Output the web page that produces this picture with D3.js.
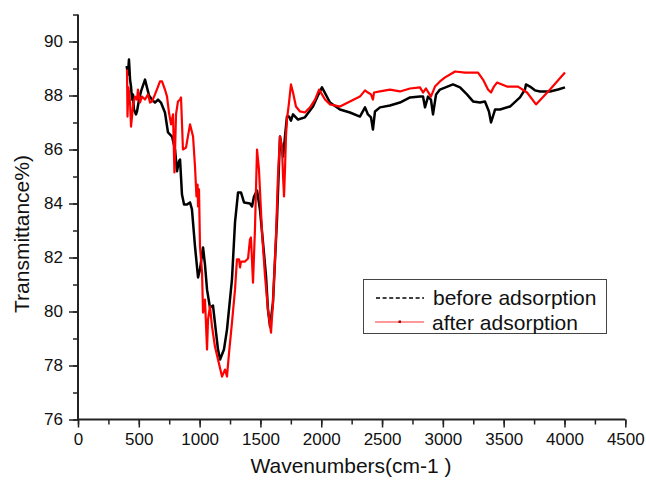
<!DOCTYPE html>
<html><head><meta charset="utf-8">
<script src="https://cdn.jsdelivr.net/npm/d3@7"></script>
<style>body{margin:0;background:#fff}svg{display:block}text{font-family:"Liberation Sans",Arial,sans-serif;fill:#111}</style>
</head><body><svg id="c" width="646" height="485"></svg>
<script>
const wnBefore=[400,411,419,428,436,444,452,460,477,485,502,518,551,567,584,608,633,658,682,715,740,773,798,814,830,839,855,872,896,921,937,962,987,1003,1028,1044,1061,1085,1110,1135,1151,1168,1200,1225,1266,1291,1316,1340,1365,1414,1431,1447,1472,1496,1521,1546,1562,1579,1603,1636,1661,1686,1702,1718,1735,1751,1768,1809,1866,1932,1973,2006,2072,2154,2236,2318,2360,2384,2409,2425,2442,2483,2565,2647,2730,2812,2837,2853,2878,2902,2919,2944,2976,3083,3141,3198,3248,3305,3346,3379,3396,3429,3470,3552,3634,3675,3683,3716,3757,3799,3881,3947,4004];
const tBefore=[89.09,88.78,89.33,88.59,88.33,87.85,88.04,87.48,87.3,87.41,87.85,88.15,88.59,88.30,88.0,87.85,87.74,87.85,87.74,87.37,86.63,86.48,86.0,85.19,85.56,85.63,84.33,83.96,83.96,84.04,83.78,82.41,81.26,81.56,82.37,81.74,80.81,80.15,80.22,79.22,78.59,78.22,78.59,79.33,81.19,83.30,84.41,84.41,84.04,84.0,83.89,84.26,84.48,83.78,82.56,81.3,80.07,79.44,80.33,83.41,86.48,85.74,86.48,87.22,87.22,87.07,87.3,87.11,87.19,87.59,88.0,88.30,87.74,87.48,87.37,87.22,87.56,87.3,87.19,86.74,87.41,87.56,87.63,87.74,87.93,87.96,87.96,87.56,87.96,87.85,87.3,88.04,88.22,88.41,88.3,88.04,87.78,87.74,87.78,87.41,87.0,87.48,87.48,87.59,87.93,88.22,88.41,88.33,88.19,88.15,88.15,88.22,88.3];
const wnAfter=[403,407,415,428,436,452,469,485,493,510,526,551,576,592,608,633,658,674,691,715,732,748,765,781,793,806,822,839,847,863,888,921,946,962,974,983,987,995,1003,1020,1028,1044,1061,1069,1085,1102,1126,1151,1184,1209,1225,1242,1266,1291,1307,1324,1332,1340,1373,1398,1414,1422,1439,1455,1472,1488,1513,1538,1562,1587,1603,1628,1644,1661,1677,1686,1694,1702,1710,1718,1735,1751,1768,1792,1825,1866,1908,1949,1982,2006,2031,2072,2154,2236,2318,2360,2384,2409,2425,2434,2483,2565,2647,2730,2812,2837,2861,2902,2935,2976,3018,3059,3100,3182,3289,3330,3371,3396,3420,3445,3527,3618,3692,3766,3881,4004];
const tAfter=[88.96,87.22,88.3,87.74,86.85,87.59,87.96,87.85,88.22,87.74,87.96,87.85,88.04,87.74,87.78,88.04,88.33,88.52,88.52,88.22,87.96,87.37,86.93,87.3,85.15,87.3,87.78,87.85,87.93,86.0,86.07,86.93,86.48,85.37,84.26,84.7,83.89,84.52,82.41,81.44,79.96,80.44,78.59,79.7,80.19,79.44,78.7,78.22,77.59,77.85,77.59,78.48,79.59,80.81,81.93,81.93,81.63,81.85,81.85,81.96,82.67,82.74,81.07,83.04,86.0,85.26,82.93,81.3,80.07,79.22,80.33,82.78,85.0,86.48,86.11,85.0,84.26,85.26,86.48,87.11,87.74,88.41,88.11,87.59,87.41,87.37,87.56,87.85,88.22,88.04,87.85,87.67,87.59,87.78,87.96,88.19,88.11,88.04,87.85,88.11,88.15,88.22,88.15,88.26,88.3,88.11,88.26,87.96,88.33,88.52,88.67,88.78,88.89,88.85,88.85,88.59,88.22,88.11,88.33,88.48,88.33,88.33,88.11,87.67,88.22,88.85];
const xTicks=[0,500,1000,1500,2000,2500,3000,3500,4000,4500];
const yTicks=[76,78,80,82,84,86,88,90];
const seriesNames=["before adsorption","after adsorption"];

const svg=d3.select("#c");
const x=d3.scaleLinear().domain([0,4500]).range([78,625.3]);
const y=d3.scaleLinear().domain([76,91]).range([419.5,14.5]);
const axisColor="#222";

// y axis
const ya=svg.append("g").attr("transform","translate(78,0)")
  .call(d3.axisLeft(y).tickValues(d3.range(76,91.01,1)).tickSize(5).tickFormat(""));
ya.selectAll("line").attr("stroke",axisColor).attr("stroke-width",1.5);
const ya2=svg.append("g").attr("transform","translate(78,0)")
  .call(d3.axisLeft(y).tickValues(yTicks).tickSize(9).tickPadding(6).tickFormat(d3.format("d")));
ya2.selectAll("line").attr("stroke",axisColor).attr("stroke-width",1.5);
ya2.selectAll("text").style("font-size","17px").attr("fill","#111");
[ya,ya2].forEach(g=>g.select(".domain").remove());
svg.append("line").attr("x1",78).attr("x2",78).attr("y1",y(91)).attr("y2",y(76)+1).attr("stroke",axisColor).attr("stroke-width",2);

// x axis
const xa=svg.append("g").attr("transform","translate(0,419.5)")
  .call(d3.axisBottom(x).tickValues(d3.range(0,4501,250)).tickSize(5).tickFormat(""));
xa.selectAll("line").attr("stroke",axisColor).attr("stroke-width",1.5);
const xa2=svg.append("g").attr("transform","translate(0,419.5)")
  .call(d3.axisBottom(x).tickValues(xTicks).tickSize(8).tickPadding(5).tickFormat(d3.format("d")));
xa2.selectAll("line").attr("stroke",axisColor).attr("stroke-width",1.5);
xa2.selectAll("text").style("font-size","17px").attr("fill","#111");
[xa,xa2].forEach(g=>g.select(".domain").remove());
svg.append("line").attr("x1",77).attr("x2",x(4500)).attr("y1",419.5).attr("y2",419.5).attr("stroke",axisColor).attr("stroke-width",2);

// lines
const lineB=d3.line().x((d,i)=>x(wnBefore[i])).y((d,i)=>y(tBefore[i]));
const lineA=d3.line().x((d,i)=>x(wnAfter[i])).y((d,i)=>y(tAfter[i]));
svg.append("path").attr("d",lineB(tBefore)).attr("fill","none").attr("stroke","#000").attr("stroke-width",2.5).attr("stroke-linejoin","round");
svg.append("path").attr("d",lineA(tAfter)).attr("fill","none").attr("stroke","#f00").attr("stroke-width",2.2).attr("stroke-linejoin","round");

// axis titles
svg.append("text").attr("x",351).attr("y",473).attr("text-anchor","middle").style("font-size","21px").text("Wavenumbers(cm-1 )");
svg.append("text").attr("transform","translate(29,234) rotate(-90)").attr("text-anchor","middle").style("font-size","21px").text("Transmittance%)");

// legend
const lg=svg.append("g");
lg.append("rect").attr("x",363.5).attr("y",279.5).attr("width",243).attr("height",54).attr("fill","#fff").attr("stroke","#444").attr("stroke-width",1);
lg.append("line").attr("x1",376).attr("x2",424).attr("y1",298).attr("y2",298).attr("stroke","#000").attr("stroke-width",1.5).attr("stroke-dasharray","4,2.6");
lg.append("text").attr("x",433).attr("y",305).style("font-size","21px").text(seriesNames[0]);
lg.append("line").attr("x1",375).attr("x2",424).attr("y1",322).attr("y2",322).attr("stroke","#f33").attr("stroke-width",1);
lg.append("rect").attr("x",398.5).attr("y",320.5).attr("width",2.5).attr("height",2.5).attr("fill","#a00");
lg.append("text").attr("x",432).attr("y",330).style("font-size","21px").text(seriesNames[1]);
</script></body></html>
